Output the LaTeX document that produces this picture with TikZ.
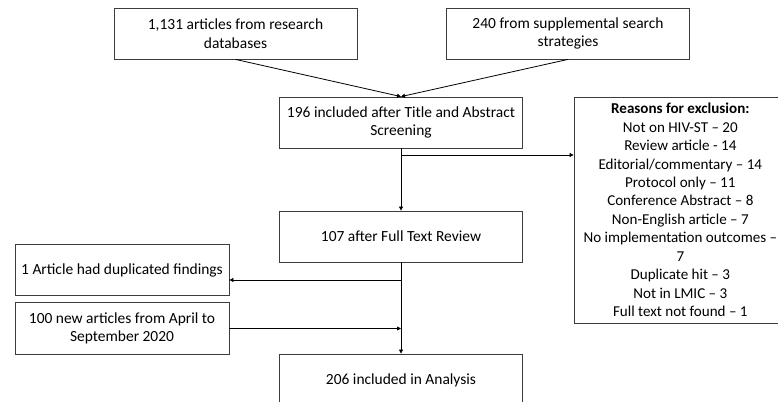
\documentclass[tikz,border=0pt]{standalone}
\usepackage{fontspec}
\setmainfont{Carlito}
\usetikzlibrary{arrows.meta}

\begin{document}
\begin{tikzpicture}[x=0.75pt,y=0.75pt,yscale=-1,xscale=1,
  box/.style={draw={rgb, 255:red, 60; green, 60; blue, 60 }, line width=0.6pt, align=center, inner sep=2pt,
    font=\fontsize{11.6pt}{13.85pt}\selectfont},
  mainbox/.style={box, minimum width=182.25pt, minimum height=38.25pt},
  sidebox/.style={box, minimum width=160.5pt, minimum height=38.6pt},
  arr/.style={line width=0.6pt, -{Triangle[length=3pt,width=3pt]}}]
\useasboundingbox (0,0) rectangle (778,402);
\clip (0,0) rectangle (778,402);

%Sources
\node [mainbox] (srcdb) at (235.5,33.5) {1,131 articles from research\\databases};
\node [mainbox] (srcsupp) at (568,33.5) {240 from supplemental search\\strategies};

%Screening
\node [mainbox] (screen) at (401,122.5) {196 included after Title and Abstract\\Screening};
\node [box, minimum width=169.5pt, minimum height=169.5pt,
  font=\fontsize{11.3pt}{13.85pt}\selectfont] (excl) at (687,210)
  {\hspace*{-10pt}\textbf{Reasons for exclusion:}\\
   \hspace*{-10pt}Not on HIV-ST – 20\\
   \hspace*{-10pt}Review article - 14\\
   \hspace*{-10pt}Editorial/commentary – 14\\
   \hspace*{-10pt}Protocol only – 11\\
   \hspace*{-10pt}Conference Abstract – 8\\
   \hspace*{-10pt}Non-English article – 7\\
   \hspace*{-10pt}No implementation outcomes –\hspace*{5pt}\\
   \hspace*{-10pt}7\hspace*{8pt}\\
   \hspace*{-10pt}Duplicate hit – 3\\
   \hspace*{-10pt}Not in LMIC – 3\\
   \hspace*{-10pt}Full text not found – 1};

%Full text and final
\node [mainbox] (fulltext) at (401,236.5) {107 after Full Text Review};
\node [sidebox] (dupl) at (122,270) {1 Article had duplicated findings};
\node [sidebox] (newart) at (122,328.5) {100 new articles from April to\\September 2020};
\node [mainbox, minimum height=39pt] (analysis) at (401,380) {206 included in Analysis};

%Connectors
\coordinate (brexcl) at (401,155);
\coordinate (brdupl) at (401,280);
\draw [arr] (srcdb.south) -- (screen.north);
\draw [arr] (srcsupp.south) -- (screen.north);
\draw [arr] (screen.south) -- (fulltext.north);
\draw [arr] (brexcl) -- (brexcl -| excl.west);
\draw [arr] (fulltext.south) -- (analysis.north);
\draw [arr] (brdupl) -- (brdupl -| dupl.east);
\draw [arr] (newart.east) -- (newart.east -| analysis.north);

\end{tikzpicture}
\end{document}
